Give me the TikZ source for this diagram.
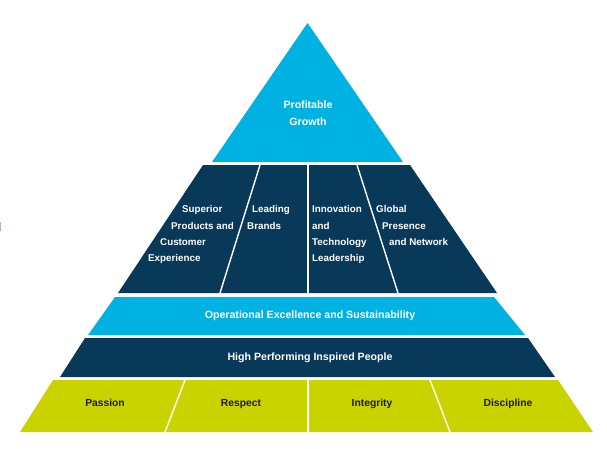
\documentclass[tikz,border=0pt]{standalone}
\usepackage{fontspec}
\setmainfont{Liberation Sans}
\definecolor{lblue}{RGB}{0,178,226}
\definecolor{navy}{RGB}{8,57,89}
\definecolor{lime}{RGB}{200,211,0}
\definecolor{ink}{RGB}{28,28,24}
\definecolor{edgemark}{RGB}{160,185,210}
\begin{document}
\begin{tikzpicture}[x=1pt,y=-1pt,
  divider/.style={draw=white,line width=1.4pt},
  wtxt/.style={text=white,inner sep=0pt,text height=7.2pt,text depth=2.1pt,font=\bfseries\fontsize{9.8}{12}\selectfont},
  btxt/.style={text=white,inner sep=0pt,font=\bfseries\fontsize{10.6}{16.6}\selectfont,align=center},
  ktxt/.style={text=ink,inner sep=0pt,text height=7.6pt,text depth=2.2pt,font=\bfseries\fontsize{10.3}{12}\selectfont}]
\useasboundingbox (0,0) rectangle (607,448);
% small edge mark
\fill[edgemark] (0,222) rectangle (1.2,231);
% top triangle
\fill[lblue] (307.5,23) -- (403,162) -- (212,162) -- cycle;
\node[btxt] (pg) at (308,113.5) {Profitable\\Growth};
% pillars tier
\fill[navy] (203,165) -- (410,165) -- (497,293) -- (118,293) -- cycle;
\draw[divider] (260,165) -- (220,293);
\draw[divider] (308,165) -- (308,293);
\draw[divider] (357,165) -- (398,293);
\node[wtxt,anchor=west] (s1) at (182,210) {Superior};
\node[wtxt,anchor=west] (s2) at (171,227) {Products and};
\node[wtxt,anchor=west] (s3) at (160,243) {Customer};
\node[wtxt,anchor=west] (s4) at (148,259) {Experience};
\node[wtxt,anchor=west] (l1) at (252,210) {Leading};
\node[wtxt,anchor=west] (l2) at (247,227) {Brands};
\node[wtxt,anchor=west] (i1) at (312,210) {Innovation};
\node[wtxt,anchor=west] (i2) at (312,227) {and};
\node[wtxt,anchor=west] (i3) at (312,243) {Technology};
\node[wtxt,anchor=west] (i4) at (312,259) {Leadership};
\node[wtxt,anchor=west] (g1) at (376,210) {Global};
\node[wtxt,anchor=west] (g2) at (382,227) {Presence};
\node[wtxt,anchor=west] (g3) at (389,243) {and Network};
% operational excellence band
\fill[lblue] (115,297) -- (494,297) -- (525,335) -- (88,335) -- cycle;
\node[btxt] (oe) at (310,315.5) {Operational Excellence and Sustainability};
% people band
\fill[navy] (85,338) -- (528,338) -- (555,377) -- (60,377) -- cycle;
\node[btxt] (hp) at (310,357.5) {High Performing Inspired People};
% values band
\fill[lime] (53,380) -- (558,380) -- (593,432) -- (20,432) -- cycle;
\draw[divider] (185,380) -- (165,432);
\draw[divider] (308,380) -- (308,432);
\draw[divider] (430,380) -- (450,432);
\node[ktxt] (v1) at (105,404) {Passion};
\node[ktxt] (v2) at (241,404) {Respect};
\node[ktxt] (v3) at (372,404) {Integrity};
\node[ktxt] (v4) at (508,404) {Discipline};
\end{tikzpicture}
\end{document}
